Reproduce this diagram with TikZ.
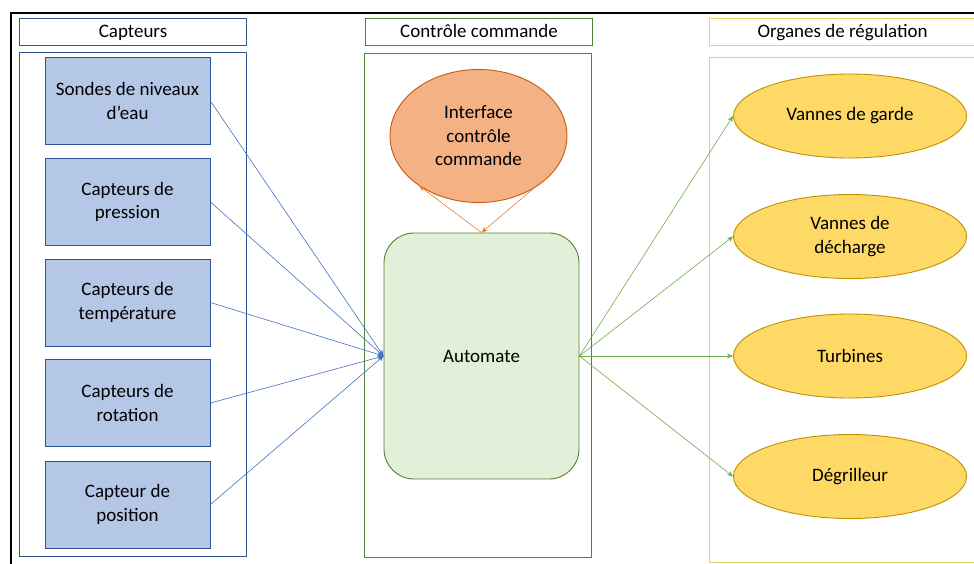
\documentclass[tikz,border=0pt]{standalone}
\usepackage{fontspec}
\setmainfont{Carlito}
\usetikzlibrary{shapes.geometric,arrows.meta}
\definecolor{bluefill}{HTML}{B4C7E7}
\definecolor{blueline}{HTML}{2F5597}
\definecolor{bluearrow}{HTML}{4472C4}
\definecolor{greenfill}{HTML}{E2F0D9}
\definecolor{greenline}{HTML}{548235}
\definecolor{greenarrow}{HTML}{70AD47}
\definecolor{orangefill}{HTML}{F4B183}
\definecolor{orangeline}{HTML}{C55A11}
\definecolor{orangearrow}{HTML}{ED7D31}
\definecolor{yellowfill}{HTML}{FFD966}
\definecolor{yellowline}{HTML}{BF9000}
\definecolor{yellowpanel}{HTML}{F0D060}
\tikzset{
  txt/.style={font=\fontsize{19}{23.5}\selectfont, align=center, text=black},
  header/.style={txt, draw, line width=1pt, rectangle, anchor=north west, inner sep=0pt, text depth=2pt},
  sensor/.style={txt, draw=blueline, fill=bluefill, line width=0.9pt, minimum width=165pt, minimum height=87pt, inner sep=0pt},
  organ/.style={txt, ellipse, draw=yellowline, fill=yellowfill, line width=0.9pt, minimum width=233pt, minimum height=84pt, inner sep=0pt},
  blink/.style={draw=bluearrow, line width=0.6pt, -{Stealth[length=6pt,width=5pt]}},
  glink/.style={draw=greenarrow, line width=0.6pt, -{Stealth[length=6pt,width=5pt]}},
  olink/.style={draw=orangearrow, line width=0.6pt, -{Stealth[length=6pt,width=5pt]}}
}
\begin{document}
\begin{tikzpicture}[x=1pt,y=-1pt]
\useasboundingbox (0,0) rectangle (974,563);
\clip (0,0) rectangle (974,563);
\fill[white] (0,0) rectangle (974,563);
% outer frame
\draw[black, line width=1.8pt] (11,600) -- (11,13) -- (1000,13);
% panels
\node[header, draw=blueline, minimum width=227pt, minimum height=27pt] (hcap) at (19,18) {Capteurs};
\node[draw=blueline, line width=1pt, rectangle, anchor=north west, minimum width=227pt, minimum height=504pt, inner sep=0pt] (pcap) at (19,52) {};
\node[header, draw=greenline, minimum width=227pt, minimum height=27pt] (hcc) at (365,18) {Contrôle commande};
\node[draw=greenline, line width=1pt, rectangle, anchor=north west, minimum width=227pt, minimum height=504pt, inner sep=0pt] (pcc) at (364,53) {};
\node[header, draw=yellowpanel, line width=1.2pt, minimum width=266pt, minimum height=27pt] (horg) at (709,18) {Organes de régulation};
\node[draw=yellowpanel, line width=1.2pt, rectangle, anchor=north west, minimum width=266pt, minimum height=505pt, inner sep=0pt] (porg) at (709,57) {};
% sensors
\node[sensor] (s1) at (127.5,101) {Sondes de niveaux\\d’eau};
\node[sensor] (s2) at (127.5,202) {Capteurs de\\pression};
\node[sensor] (s3) at (127.5,302.5) {Capteurs de\\température};
\node[sensor] (s4) at (127.5,403) {Capteurs de\\rotation};
\node[sensor] (s5) at (127.5,504.5) {Capteur de\\position};
% control
\node[txt, ellipse, draw=orangeline, fill=orangefill, line width=0.9pt, minimum width=177pt, minimum height=133pt, inner sep=0pt] (ic) at (478.5,136) {Interface\\contrôle\\commande};
\node[txt, rectangle, rounded corners=30pt, draw=greenline, fill=greenfill, line width=0.9pt, minimum width=195pt, minimum height=246pt, inner sep=0pt] (auto) at (481.5,356) {Automate};
% organs
\node[organ] (o1) at (850,116) {Vannes de garde};
\node[organ] (o2) at (850,236.5) {Vannes de\\décharge};
\node[organ] (o3) at (850,356) {Turbines};
\node[organ] (o4) at (850,476.5) {Dégrilleur};
% links
\foreach \s in {s1,s2,s3,s4,s5} \draw[blink] (\s.east) -- (auto.west);
\foreach \o in {o1,o2,o3,o4} \draw[glink] (auto.east) -- (\o.west);
\draw[olink] (auto.north) -- (ic.220);
\draw[olink] (ic.316) -- (auto.north);
\end{tikzpicture}
\end{document}
